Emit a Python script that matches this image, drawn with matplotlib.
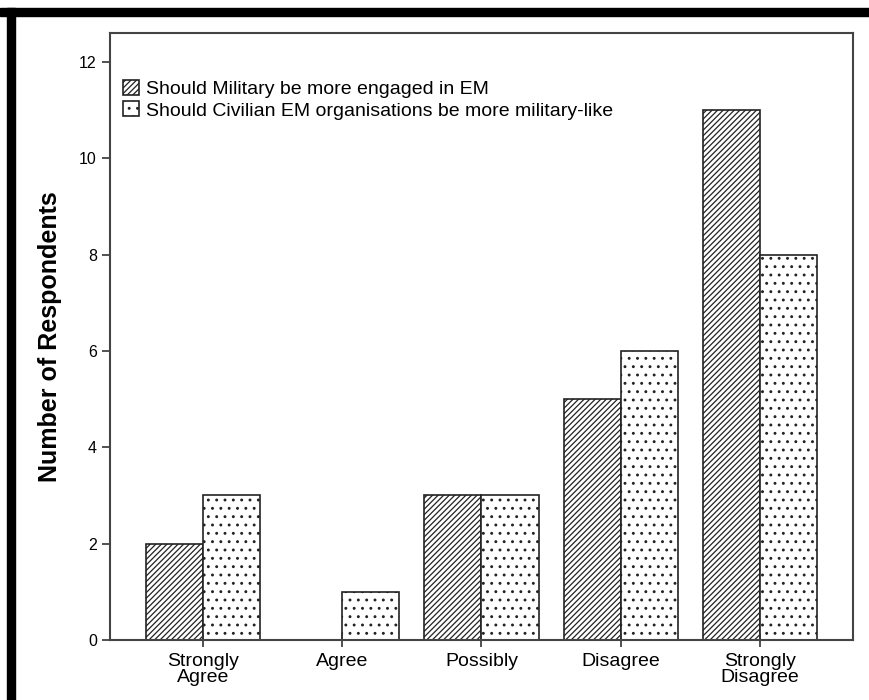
import numpy as np
import matplotlib
matplotlib.use("Agg")
import matplotlib.pyplot as plt
from matplotlib.patches import Rectangle

plt.rcParams['font.family'] = ['Liberation Sans', 'DejaVu Sans']
plt.rcParams['hatch.linewidth'] = 0.9

#-- Data
categories = ["Strongly\nAgree", "Agree", "Possibly", "Disagree", "Strongly\nDisagree"]
military = [2, 0, 3, 5, 11]
civilian = [3, 1, 3, 6, 8]
labels = ["Should Military be more engaged in EM",
          "Should Civilian EM organisations be more military-like"]

fig = plt.figure(figsize=(8.7, 7), dpi=100)
ax = fig.add_axes([110/870, 1 - 640/700, (853-110)/870, (640-33)/700])

x = np.arange(len(categories))
w = 0.41
ax.bar(x - w/2, military, w, color='white', edgecolor='#222222', hatch='//////', lw=1.2, label=labels[0])
ax.bar(x + w/2, civilian, w, color='white', edgecolor='#222222', hatch='..', lw=1.2, label=labels[1])

ax.set_xlim(-0.67, 4.67)
ax.set_ylim(0, 12.6)
ax.set_yticks([0, 2, 4, 6, 8, 10, 12])
ax.set_xticks(x)
ax.set_xticklabels(categories, fontsize=14, linespacing=1.0)
ax.tick_params(axis='y', labelsize=11.5, length=6, width=1.2, direction='out', colors='#333333')
ax.tick_params(axis='x', length=10, width=1.2, direction='inout', colors='#333333', pad=4)
for lab in ax.get_xticklabels() + ax.get_yticklabels():
    lab.set_color('black')
for s in ax.spines.values():
    s.set_linewidth(1.5)
    s.set_color('#444444')
ax.set_ylabel("Number of Respondents", fontsize=18, fontweight='bold', labelpad=12)

ax.legend(loc='upper left', bbox_to_anchor=(0.007, 0.935), frameon=False, fontsize=14,
          handlelength=0.8, handleheight=0.8, handletextpad=0.4, labelspacing=0.15, borderaxespad=0)

# black frame bars top and left
fig.patches.append(Rectangle((0, 1 - 16/700), 1, 8/700, transform=fig.transFigure, color='black', zorder=10))
fig.patches.append(Rectangle((7/870, 0), 8/870, 1 - 8/700, transform=fig.transFigure, color='black', zorder=10))

fig.savefig("out.png", dpi=100)
